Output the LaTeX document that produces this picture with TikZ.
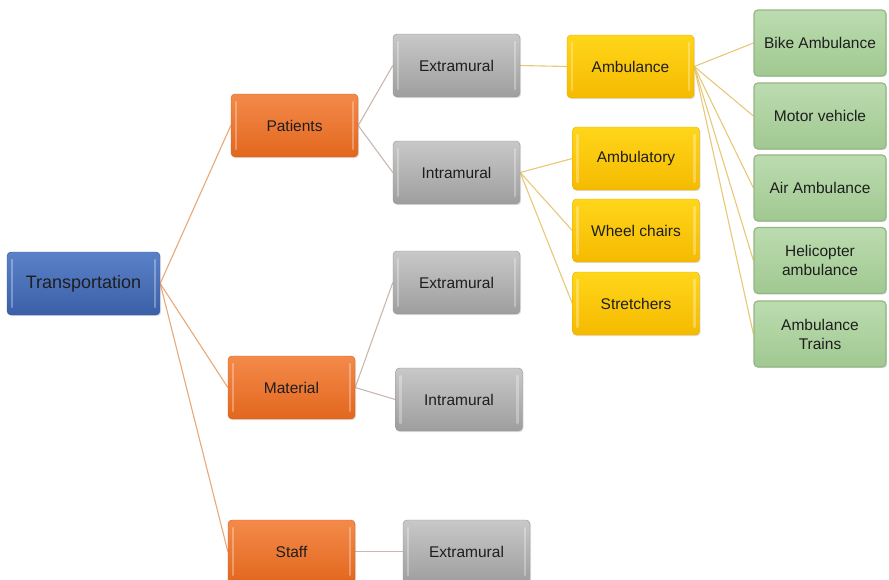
\documentclass[tikz,border=0pt]{standalone}
\usepackage{fontspec}
\setmainfont{Liberation Sans}
\usetikzlibrary{shadows,backgrounds}

\definecolor{bluetop}{HTML}{5A82C8}
\definecolor{bluebot}{HTML}{3B5FA8}
\definecolor{blueedge}{HTML}{3A5A98}
\definecolor{orangetop}{HTML}{F48A4A}
\definecolor{orangebot}{HTML}{E2671E}
\definecolor{orangeedge}{HTML}{D0601F}
\definecolor{greytop}{HTML}{C8C8C8}
\definecolor{greybot}{HTML}{9E9E9E}
\definecolor{greyedge}{HTML}{939393}
\definecolor{yellowtop}{HTML}{FFD61A}
\definecolor{yellowbot}{HTML}{F5BA00}
\definecolor{yellowedge}{HTML}{E0AA00}
\definecolor{greentop}{HTML}{BCDCB0}
\definecolor{greenbot}{HTML}{A0C890}
\definecolor{greenedge}{HTML}{93B683}
\definecolor{linkorange}{HTML}{E8A878}
\definecolor{linkgrey}{HTML}{C8B8B0}
\definecolor{linkgold}{HTML}{E8C878}
\definecolor{labeltext}{HTML}{1E1E1E}

\tikzset{
  basebox/.style={rounded corners=4pt, minimum width=127pt, minimum height=63pt,
    inner sep=2pt, align=center, text=labeltext,
    font=\fontsize{15.5}{19}\selectfont,
    drop shadow={opacity=0.22, shadow xshift=1.2pt, shadow yshift=-1.2pt}},
  bevel/.style={path picture={
    \draw[white, opacity=0.3, line width=2.5pt, line cap=round]
      ([xshift=5pt,yshift=-8pt]path picture bounding box.north west) --
      ([xshift=5pt,yshift=8pt]path picture bounding box.south west);
    \draw[white, opacity=0.3, line width=2.5pt, line cap=round]
      ([xshift=-5pt,yshift=-8pt]path picture bounding box.north east) --
      ([xshift=-5pt,yshift=8pt]path picture bounding box.south east);}},
  rootbox/.style={basebox, bevel, draw=blueedge, top color=bluetop, bottom color=bluebot,
    minimum width=153pt, font=\fontsize{18}{22}\selectfont},
  orangebox/.style={basebox, bevel, draw=orangeedge, top color=orangetop, bottom color=orangebot},
  greybox/.style={basebox, bevel, draw=greyedge, top color=greytop, bottom color=greybot},
  yellowbox/.style={basebox, bevel, draw=yellowedge, top color=yellowtop, bottom color=yellowbot},
  greenbox/.style={basebox, draw=greenedge, line width=1.2pt, top color=greentop,
    bottom color=greenbot, minimum width=132pt, minimum height=66pt},
  linkA/.style={draw=linkorange, line width=1.1pt},
  linkB/.style={draw=linkgrey, line width=1.1pt},
  linkC/.style={draw=linkgold, line width=1.1pt},
}

\begin{document}
\begin{tikzpicture}[x=1pt, y=-1pt]
  \useasboundingbox (0,0) rectangle (889,579);
  \clip (0,0) rectangle (889,579);

  % root
  \node[rootbox] (tr) at (83.5,283.5) {Transportation};

  % first level
  \node[orangebox] (pat) at (294.5,125.5) {Patients};
  \node[orangebox] (mat) at (291.5,387.5) {Material};
  \node[orangebox] (stf) at (291.5,551.5) {Staff};

  % second level
  \node[greybox] (pex) at (456.5,65.5) {Extramural};
  \node[greybox] (pin) at (456.5,172.5) {Intramural};
  \node[greybox] (mex) at (456.5,282.5) {Extramural};
  \node[greybox] (min) at (459,399.5) {Intramural};
  \node[greybox] (sex) at (466.5,551.5) {Extramural};

  % third level
  \node[yellowbox] (amb) at (630.5,66.5) {Ambulance};
  \node[yellowbox] (aby) at (636,158.5) {Ambulatory};
  \node[yellowbox] (whc) at (636,230.5) {Wheel chairs};
  \node[yellowbox] (str) at (636,303.5) {Stretchers};

  % ambulance kinds
  \node[greenbox] (bike) at (820,43) {Bike Ambulance};
  \node[greenbox] (motor) at (820,116) {Motor vehicle};
  \node[greenbox] (air) at (820,188) {Air Ambulance};
  \node[greenbox] (heli) at (820,260.5) {Helicopter\\ambulance};
  \node[greenbox] (train) at (820,334) {Ambulance\\Trains};

  % connectors, kept behind the boxes
  \begin{pgfonlayer}{background}
    \foreach \c in {pat,mat,stf} \draw[linkA] (tr.east) -- (\c.west);
    \draw[linkB] (pat.east) -- (pex.west);
    \draw[linkB] (pat.east) -- (pin.west);
    \draw[linkB] (mat.east) -- (mex.west);
    \draw[linkB] (mat.east) -- (min.west);
    \draw[linkB] (stf.east) -- (sex.west);
    \draw[linkC] (pex.east) -- (amb.west);
    \foreach \c in {aby,whc,str} \draw[linkC] (pin.east) -- (\c.west);
    \foreach \c in {bike,motor,air,heli,train} \draw[linkC] (amb.east) -- (\c.west);
  \end{pgfonlayer}
\end{tikzpicture}
\end{document}
